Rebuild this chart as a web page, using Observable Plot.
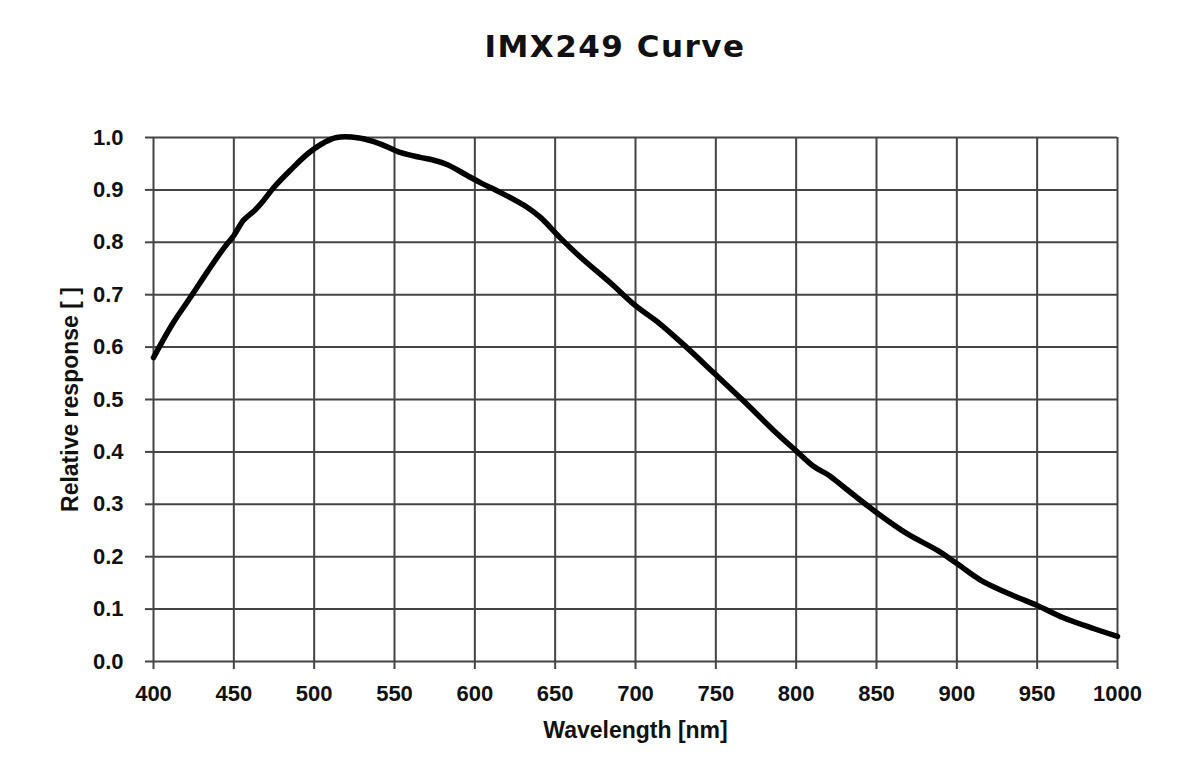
<!DOCTYPE html>
<html>
<head>
<meta charset="utf-8">
<script src="https://cdn.jsdelivr.net/npm/d3@7"></script>
<script src="https://cdn.jsdelivr.net/npm/@observablehq/plot@0.6"></script>
<style>
  html, body { margin: 0; padding: 0; background: #fff; }
  #title { height: 100px; width: 1200px; box-sizing: border-box; padding-left: 30px; text-align: center; font-family: "DejaVu Sans", sans-serif; font-weight: bold; font-size: 31px; color: #111; line-height: 92px; letter-spacing: 1.5px; }
  #chart svg { display: block; }
  #chart svg g[aria-label="x-axis tick label"], #chart svg g[aria-label="y-axis tick label"] { font-size: 22px !important; }
  #chart svg g[aria-label="x-axis label"], #chart svg g[aria-label="y-axis label"] { font-size: 23px !important; }
</style>
</head>
<body>
<div id="title">IMX249 Curve</div>
<div id="chart"></div>
<script>
const wavelengths = [400,412,423,434,444,450,456,463,468,475,485,496,506,514,528,541,554,566,574,583,595,604,616,633,641,653,666,685,700,715,732,749,767,786,800,811,820,830,851,869,888,900,915,935,950,966,985,1000];
const response = [0.58,0.645,0.695,0.746,0.79,0.813,0.842,0.861,0.878,0.905,0.937,0.969,0.99,1.0,0.999,0.988,0.971,0.962,0.957,0.948,0.928,0.913,0.895,0.866,0.847,0.809,0.771,0.721,0.679,0.645,0.599,0.55,0.498,0.441,0.402,0.372,0.356,0.332,0.282,0.244,0.212,0.187,0.155,0.126,0.107,0.084,0.063,0.048];
const xTicks = [400,450,500,550,600,650,700,750,800,850,900,950,1000];
const yTicks = [0,0.1,0.2,0.3,0.4,0.5,0.6,0.7,0.8,0.9,1.0];

const data = wavelengths.map((w, i) => ({w, r: response[i]}));

const chart = Plot.plot({
  width: 1200,
  height: 660,
  marginLeft: 153,
  marginRight: 83,
  marginTop: 37,
  marginBottom: 99,
  style: {fontFamily: "Liberation Sans, Arial, sans-serif", fontWeight: "bold", color: "#111", background: "#fff"},
  x: {domain: [400, 1000]},
  y: {domain: [0, 1]},
  marks: [
    Plot.gridX(xTicks, {stroke: "#444", strokeOpacity: 1, strokeWidth: 2}),
    Plot.gridY(yTicks, {stroke: "#444", strokeOpacity: 1, strokeWidth: 2}),
    Plot.axisX({ticks: xTicks, tickSize: 8, tickPadding: 16, tickFormat: d => String(d), stroke: "#444", strokeWidth: 2,
      label: "Wavelength [nm]", labelAnchor: "center", labelArrow: "none", labelOffset: 76}),
    Plot.axisY({ticks: yTicks, tickSize: 8, tickPadding: 22, tickFormat: d => d.toFixed(1), stroke: "#444", strokeWidth: 2,
      label: "Relative response [ ]", labelAnchor: "center", labelArrow: "none", labelOffset: 92}),
    Plot.line(data, {x: "w", y: "r", stroke: "#000", strokeWidth: 5.5, curve: "catmull-rom", strokeLinecap: "round", strokeLinejoin: "round"})
  ]
});
document.getElementById("chart").appendChild(chart);
</script>
</body>
</html>
